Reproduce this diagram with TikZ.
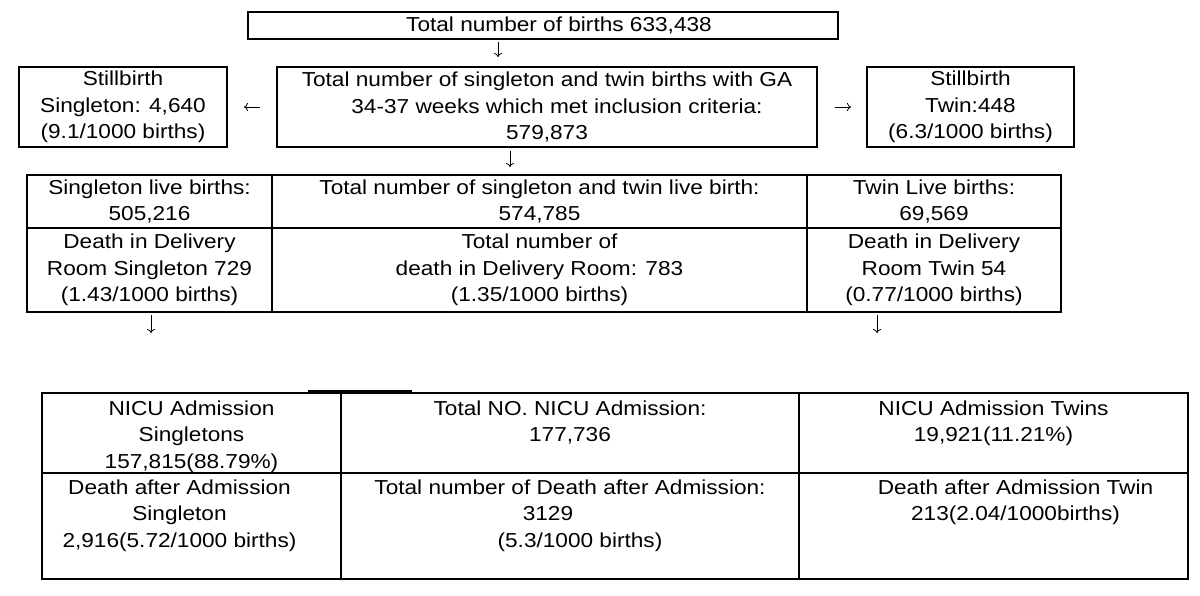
\documentclass[tikz,border=0pt]{standalone}
\usepackage{fontspec}
\setmainfont[FakeStretch=1.12]{Liberation Sans}
\usetikzlibrary{positioning, arrows.meta}

\tikzset{
  box/.style={draw, line width=1.1pt, inner sep=0pt, align=center,
    font=\fontsize{20.2}{26.5}\selectfont},
  cell/.style={draw, line width=1.1pt, inner sep=0pt},
  txt/.style={inner sep=0pt, align=center, font=\fontsize{20.2}{26.5}\selectfont},
  flow/.style={-{To[length=4pt,width=8pt]}, line width=0.8pt}
}

\begin{document}
\begin{tikzpicture}[x=1pt, y=-1pt]
  \useasboundingbox (0,0) rectangle (1200,595);

  % births and stillbirths
  \node[cell, minimum width=590pt, minimum height=27pt] (total) at (543,25.5) {};
  \node[txt, xshift=16pt] (ttotal) at (total) {Total number of births 633,438};
  \node[box, minimum width=208pt, minimum height=80pt] (sbsing) at (123,107) {Stillbirth\\Singleton: 4,640\\(9.1/1000 births)};
  \node[box, minimum width=540pt, minimum height=80pt] (incl) at (547,107) {Total number of singleton and twin births with GA\\\hspace*{20pt}34-37 weeks which met inclusion criteria:\\579,873};
  \node[box, minimum width=207pt, minimum height=80pt] (sbtwin) at (970.5,107) {Stillbirth\\Twin:448\\(6.3/1000 births)};

  % live births and delivery room deaths
  \node[box, minimum width=245pt, minimum height=53pt] (livesing) at (149.5,201.5) {Singleton live births:\\505,216};
  \node[box, minimum width=535pt, minimum height=53pt] (livetot) at (539.5,201.5) {Total number of singleton and twin live birth:\\574,785};
  \node[box, minimum width=254pt, minimum height=53pt] (livetwin) at (934,201.5) {Twin Live births:\\69,569};
  \node[box, minimum width=245pt, minimum height=84pt] (drsing) at (149.5,270) {Death in Delivery\\Room Singleton 729\\(1.43/1000 births)};
  \node[box, minimum width=535pt, minimum height=84pt] (drtot) at (539.5,270) {Total number of\\death in Delivery Room: 783\\(1.35/1000 births)};
  \node[box, minimum width=254pt, minimum height=84pt] (drtwin) at (934,270) {Death in Delivery\\Room Twin 54\\(0.77/1000 births)};
  \draw[line width=1.8pt] (drsing.south west) -- (drtwin.south east);

  % NICU table
  \node[cell, minimum width=299pt, minimum height=80pt] (nicusing) at (191.5,433) {};
  \node[cell, minimum width=458pt, minimum height=80pt] (nicutot) at (570,433) {};
  \node[cell, minimum width=389pt, minimum height=80pt] (nicutwin) at (993.5,433) {};
  \node[cell, minimum width=299pt, minimum height=106pt] (dasing) at (191.5,526) {};
  \node[cell, minimum width=458pt, minimum height=106pt] (datot) at (570,526) {};
  \node[cell, minimum width=389pt, minimum height=106pt] (datwin) at (993.5,526) {};

  \node[txt, below=8pt of nicusing.north] (tnicusing) {NICU Admission\\Singletons\\157,815(88.79\%)};
  \node[txt, below=8pt of nicutot.north] (tnicutot) {Total NO. NICU Admission:\\177,736};
  \node[txt, below=8pt of nicutwin.north] (tnicutwin) {NICU Admission Twins\\19,921(11.21\%)};
  \node[txt, below=7pt of dasing.north, xshift=-12pt] (tdasing) {Death after Admission\\Singleton\\2,916(5.72/1000 births)};
  \node[txt, below=7pt of datot.north] (tdatot) {Total number of Death after Admission:\\3129\hspace*{44pt}\null\\\hspace*{20pt}(5.3/1000 births)};
  \node[txt, below=7pt of datwin.north, xshift=22pt] (tdatwin) {Death after Admission Twin\\213(2.04/1000births)};

  \draw[line width=2pt] (308,391) -- (412,391);

  % arrows
  \coordinate (d1a) at (498,42);   \coordinate (d1b) at (498,57);
  \coordinate (lta) at (260,107);  \coordinate (ltb) at (244,107);
  \coordinate (rta) at (835,107);  \coordinate (rtb) at (851,107);
  \coordinate (d2a) at (510,151);  \coordinate (d2b) at (510,167);
  \coordinate (d3a) at (151,315);  \coordinate (d3b) at (151,333);
  \coordinate (d4a) at (877,315);  \coordinate (d4b) at (877,333);
  \draw[flow] (d1a) -- (d1b);
  \draw[flow] (lta) -- (ltb);
  \draw[flow] (rta) -- (rtb);
  \draw[flow] (d2a) -- (d2b);
  \draw[flow] (d3a) -- (d3b);
  \draw[flow] (d4a) -- (d4b);
\end{tikzpicture}
\end{document}
